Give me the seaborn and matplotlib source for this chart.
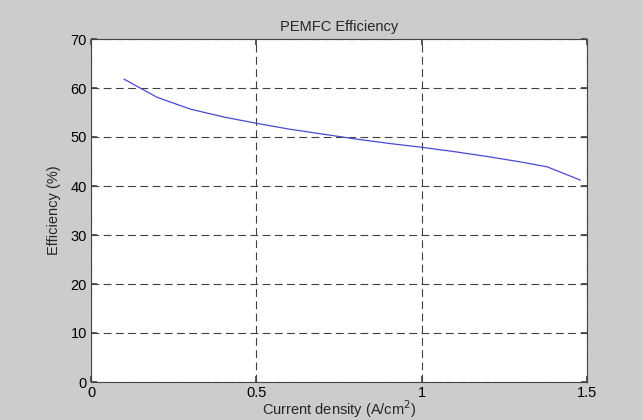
import matplotlib
matplotlib.use("Agg")
import matplotlib.pyplot as plt
import seaborn as sns
import pandas as pd

current_density = [0.1, 0.2, 0.3, 0.4, 0.5, 0.6, 0.7, 0.8, 0.9, 1.0, 1.1, 1.2, 1.3, 1.38, 1.48]
efficiency = [61.8, 58.1, 55.7, 54.1, 52.8, 51.6, 50.6, 49.6, 48.7, 47.9, 47.0, 46.0, 44.9, 43.9, 41.2]
x_ticks = [0, 0.5, 1, 1.5]
x_tick_labels = ["0", "0.5", "1", "1.5"]
y_ticks = [0, 10, 20, 30, 40, 50, 60, 70]

sns.set_theme(style="white")
plt.rcParams['font.family'] = ['Liberation Sans', 'DejaVu Sans']

df = pd.DataFrame({"x": current_density, "y": efficiency})

fig = plt.figure(figsize=(6.43, 4.20), dpi=100, facecolor="#cccccc")
ax = fig.add_axes([91/643, 38/420, (587-91)/643, (382-39)/420])
ax.set_facecolor("white")
sns.lineplot(data=df, x="x", y="y", ax=ax, color="#4a4ad0", linewidth=0.9)

ax.set_xlim(0, 1.5)
ax.set_ylim(0, 70)
ax.set_xticks(x_ticks)
ax.set_xticklabels(x_tick_labels)
ax.set_yticks(y_ticks)
ax.grid(True, linestyle=(0, (7, 4)), color="#404040", linewidth=0.8)
for s in ax.spines.values():
    s.set_color("#444444")
    s.set_linewidth(0.8)
ax.tick_params(direction="in", length=4, colors="#444444", labelcolor="black", labelsize=10.5,
               top=True, right=True, bottom=True, left=True, pad=3)
ax.set_xlabel("Current density (A/cm$^2$)", fontsize=10.5, labelpad=-1)
ax.set_ylabel("Efficiency (%)", fontsize=10.5, labelpad=7)
ax.set_title("PEMFC Efficiency", fontsize=10.5, pad=6)

fig.savefig("out.png", dpi=100, facecolor=fig.get_facecolor())
